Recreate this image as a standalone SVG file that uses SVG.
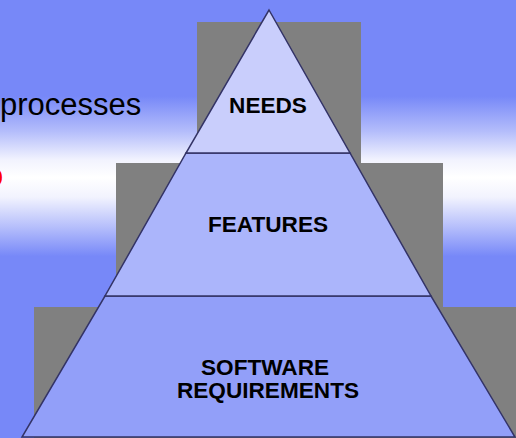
<svg xmlns="http://www.w3.org/2000/svg" width="516" height="438" viewBox="0 0 516 438">
<defs>
<linearGradient id="bg" x1="0" y1="0" x2="0" y2="438" gradientUnits="userSpaceOnUse">
<stop offset="0" stop-color="#7788f8"/>
<stop offset="0.22" stop-color="#7788f8"/>
<stop offset="0.30" stop-color="#b4bdfb"/>
<stop offset="0.365" stop-color="#f2f3fe"/>
<stop offset="0.405" stop-color="#ffffff"/>
<stop offset="0.45" stop-color="#f2f3fe"/>
<stop offset="0.52" stop-color="#b4bdfb"/>
<stop offset="0.585" stop-color="#7788f8"/>
<stop offset="1" stop-color="#7788f8"/>
</linearGradient>
<style>
.shadow{fill:#808080}
.tier{stroke:#333366;stroke-width:1.5;stroke-linejoin:miter}
.lbl{font-family:"Liberation Sans",Arial,sans-serif;font-weight:bold;font-size:22.6px;fill:#000;text-anchor:middle}
.body{font-family:"Liberation Sans",Arial,sans-serif;font-size:31px;fill:#000}
</style>
</defs>
<rect x="0" y="0" width="516" height="438" fill="url(#bg)"/>
<text class="body" x="0" y="115">processes</text>
<text class="body" x="-14" y="186" style="fill:#ff0000">o</text>
<g id="shadows">
<rect class="shadow" x="197" y="22" width="164" height="141"/>
<rect class="shadow" x="116" y="163" width="327" height="144"/>
<rect class="shadow" x="34" y="307" width="482" height="131"/>
</g>
<g id="software-requirements">
<polygon class="tier" points="105,296 431,296 515,437 22,437" fill="#929ff9"/>
<text class="lbl" x="265" y="375">SOFTWARE</text>
<text class="lbl" x="268" y="398">REQUIREMENTS</text>
</g>
<g id="features">
<polygon class="tier" points="186,153 350,153 431,296 105,296" fill="#abb5fb"/>
<text class="lbl" x="268" y="232">FEATURES</text>
</g>
<g id="needs">
<polygon class="tier" points="269,10 350,153 186,153" fill="#c9cefc"/>
<text class="lbl" x="268" y="113">NEEDS</text>
</g>
</svg>
